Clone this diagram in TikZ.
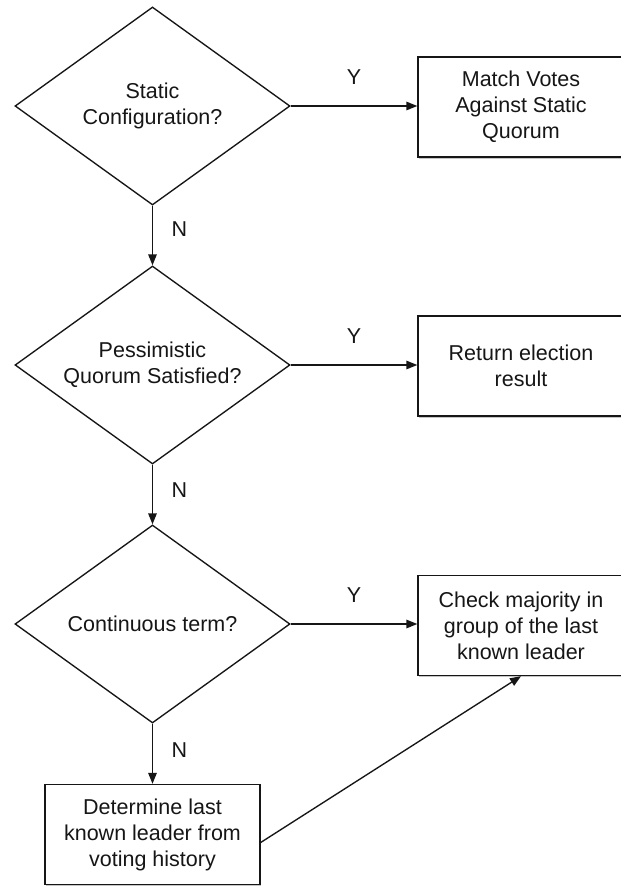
\documentclass[tikz,border=0pt]{standalone}
\usepackage{fontspec}
\setmainfont{Liberation Sans}
\usetikzlibrary{shapes.geometric,arrows.meta,shadows}
\definecolor{ink}{HTML}{161616}
\begin{document}
\begin{tikzpicture}[x=1pt,y=-1pt,
  every node/.style={text=ink, font=\fontsize{21.5}{26}\selectfont},
  decision/.style={diamond, draw=ink, line width=1.35pt, aspect=1.39,
    minimum width=275pt, minimum height=198pt, inner sep=0pt, align=center},
  process/.style={rectangle, draw=ink, line width=1.35pt, fill=white,
    minimum width=206pt, minimum height=100pt, inner sep=2pt, align=center,
    drop shadow={shadow xshift=0.6pt, shadow yshift=-1.6pt, opacity=0.45}},
  flow/.style={draw=ink, line width=1.35pt, -{Triangle[length=11pt,width=8.5pt]}},
  lbl/.style={inner sep=0pt, font=\fontsize{21.5}{26}\selectfont}]
  \useasboundingbox (0,0) rectangle (621,886);
  \clip (0,0) rectangle (621,886);
  \fill[white] (0,0) rectangle (621,886);

  % decisions down the left column
  \node[decision] (d1) at (152.5,106) {Static\\Configuration?};
  \node[decision] (d2) at (152.5,365) {Pessimistic\\Quorum Satisfied?};
  \node[decision] (d3) at (152.5,624) {Continuous term?};

  % actions on the right
  \node[process] (b1) at (521,107) {Match Votes\\Against Static\\Quorum};
  \node[process] (b2) at (521,366) {Return election\\result};
  \node[process] (b3) at (521,625.5) {Check majority in\\group of the last\\known leader};
  \node[process, minimum width=215pt] (b4) at (152.5,834.5) {Determine last\\known leader from\\voting history};

  % yes branches
  \draw[flow] (d1.east) -- node[lbl, midway, yshift=29pt] {Y} (d1.east -| b1.west);
  \draw[flow] (d2.east) -- node[lbl, midway, yshift=29pt] {Y} (d2.east -| b2.west);
  \draw[flow] (d3.east) -- node[lbl, midway, yshift=29pt] {Y} (d3.east -| b3.west);

  % no branches
  \draw[flow] (d1.south) -- node[lbl, midway, xshift=27pt, yshift=6pt] {N} (d2.north);
  \draw[flow] (d2.south) -- node[lbl, midway, xshift=27pt, yshift=4pt] {N} (d3.north);
  \draw[flow] (d3.south) -- node[lbl, midway, xshift=27pt, yshift=4pt] {N} (b4.north);

  % recovered leader feeds the majority check
  \draw[flow] ([yshift=-8pt]b4.east) -- (b3.south);
\end{tikzpicture}
\end{document}
